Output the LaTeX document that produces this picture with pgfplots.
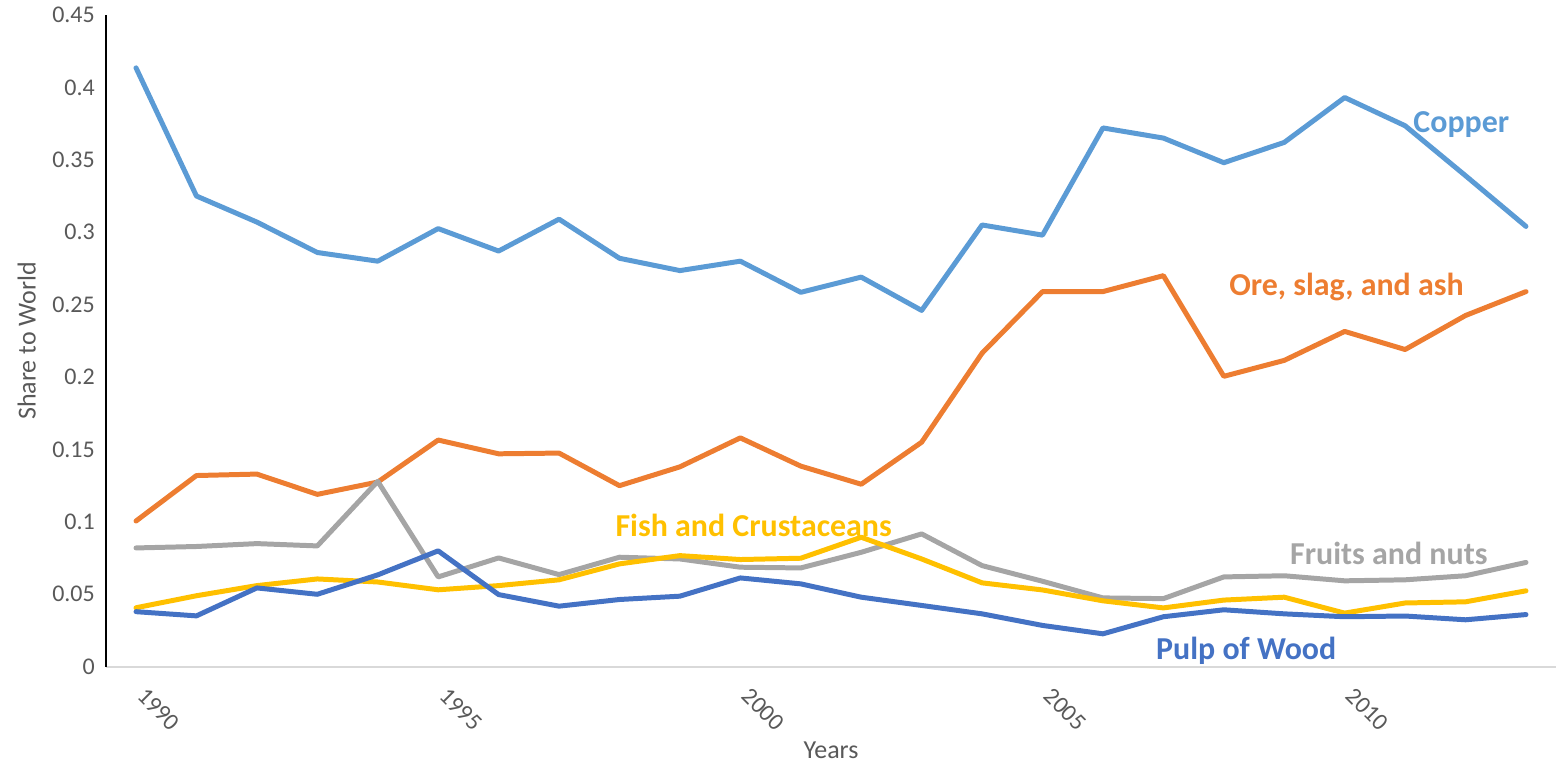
\documentclass[border=0pt]{standalone}
\usepackage{pgfplots}
\pgfplotsset{compat=1.18}
\usepackage{fontspec}
\setmainfont{Carlito}
\definecolor{cCopper}{HTML}{5B9BD5}
\definecolor{cOre}{HTML}{ED7D31}
\definecolor{cFruit}{HTML}{A5A5A5}
\definecolor{cFish}{HTML}{FFC000}
\definecolor{cPulp}{HTML}{4472C4}
\definecolor{txtgray}{HTML}{595959}
\definecolor{axgray}{HTML}{D9D9D9}
\begin{document}
\begin{tikzpicture}
\begin{axis}[
  at={(0,0)}, anchor=south west,
  scale only axis, width=726.6pt, height=326.5pt,
  xmin=1989.5, xmax=2013.5, ymin=0, ymax=0.45,
  axis x line*=bottom, axis y line*=left,
  x axis line style={axgray, line width=0.8pt, -},
  y axis line style={black, line width=0.8pt, -},
  major tick length=0pt,
  xtick={1990,1995,2000,2005,2010},
  ytick={0,0.05,0.1,0.15,0.2,0.25,0.3,0.35,0.4,0.45},
  /pgf/number format/assume math mode=true,
  yticklabel style={/pgf/number format/fixed, /pgf/number format/precision=2, xshift=-2pt},
  xticklabel style={/pgf/number format/set thousands separator={}, rotate=-45, anchor=north west, xshift=7.4pt, yshift=0.5pt},
  every tick label/.append style={font=\fontsize{12}{14}\selectfont, text=txtgray},
  xlabel={Years}, ylabel={Share to World},
  label style={font=\fontsize{13}{15}\selectfont, text=txtgray},
  xlabel style={at={(0.5,0)}, anchor=north, yshift=-34pt},
  ylabel style={at={(0,0.5)}, anchor=south, yshift=31.5pt},
  every axis plot/.append style={line width=2.5pt, line join=round, line cap=round},
  clip=false,
]
\addplot[cCopper] coordinates {
(1990,0.4135)(1991,0.325)(1992,0.307)(1993,0.286)(1994,0.280)(1995,0.3025)
(1996,0.287)(1997,0.309)(1998,0.282)(1999,0.2735)(2000,0.280)(2001,0.2585)
(2002,0.269)(2003,0.246)(2004,0.305)(2005,0.298)(2006,0.372)(2007,0.365)
(2008,0.348)(2009,0.362)(2010,0.393)(2011,0.3735)(2012,0.339)(2013,0.304)};
\addplot[cOre] coordinates {
(1990,0.1006)(1991,0.132)(1992,0.133)(1993,0.119)(1994,0.1275)(1995,0.1565)
(1996,0.147)(1997,0.1475)(1998,0.125)(1999,0.138)(2000,0.158)(2001,0.1385)
(2002,0.126)(2003,0.155)(2004,0.2165)(2005,0.259)(2006,0.259)(2007,0.270)
(2008,0.2005)(2009,0.2115)(2010,0.2315)(2011,0.219)(2012,0.2425)(2013,0.259)};
\addplot[cFruit] coordinates {
(1990,0.082)(1991,0.083)(1992,0.085)(1993,0.0834)(1994,0.128)(1995,0.062)
(1996,0.0751)(1997,0.0636)(1998,0.0756)(1999,0.0744)(2000,0.0687)(2001,0.0682)
(2002,0.079)(2003,0.0917)(2004,0.0698)(2005,0.059)(2006,0.0475)(2007,0.047)
(2008,0.062)(2009,0.0628)(2010,0.0593)(2011,0.060)(2012,0.0628)(2013,0.072)};
\addplot[cFish] coordinates {
(1990,0.0407)(1991,0.049)(1992,0.056)(1993,0.0606)(1994,0.0585)(1995,0.0531)
(1996,0.056)(1997,0.060)(1998,0.071)(1999,0.0767)(2000,0.074)(2001,0.0749)
(2002,0.0894)(2003,0.0744)(2004,0.0579)(2005,0.053)(2006,0.0455)(2007,0.0406)
(2008,0.046)(2009,0.048)(2010,0.037)(2011,0.044)(2012,0.0448)(2013,0.0524)};
\addplot[cPulp] coordinates {
(1990,0.038)(1991,0.0351)(1992,0.0544)(1993,0.050)(1994,0.0634)(1995,0.080)
(1996,0.0498)(1997,0.0418)(1998,0.0464)(1999,0.0487)(2000,0.0613)(2001,0.0572)
(2002,0.048)(2003,0.0423)(2004,0.0365)(2005,0.0285)(2006,0.0227)(2007,0.0345)
(2008,0.0393)(2009,0.0365)(2010,0.0345)(2011,0.035)(2012,0.0324)(2013,0.036)};
\node[font=\bfseries\fontsize{16}{19}\selectfont, text=cCopper] at (axis cs:2011.93,0.374) {Copper};
\node[font=\bfseries\fontsize{16}{19}\selectfont, text=cOre] at (axis cs:2010.03,0.2625) {Ore, slag, and ash};
\node[font=\bfseries\fontsize{16}{19}\selectfont, text=cFish] at (axis cs:2000.22,0.0979) {Fish and Crustaceans};
\node[font=\bfseries\fontsize{16}{19}\selectfont, text=cFruit] at (axis cs:2010.73,0.0779) {Fruits and nuts};
\node[font=\bfseries\fontsize{16}{19}\selectfont, text=cPulp] at (axis cs:2008.37,0.011) {Pulp of Wood};
\end{axis}
\path[use as bounding box] (-53pt,-48.5pt) rectangle (725.5pt,334pt);
\end{tikzpicture}
\end{document}
